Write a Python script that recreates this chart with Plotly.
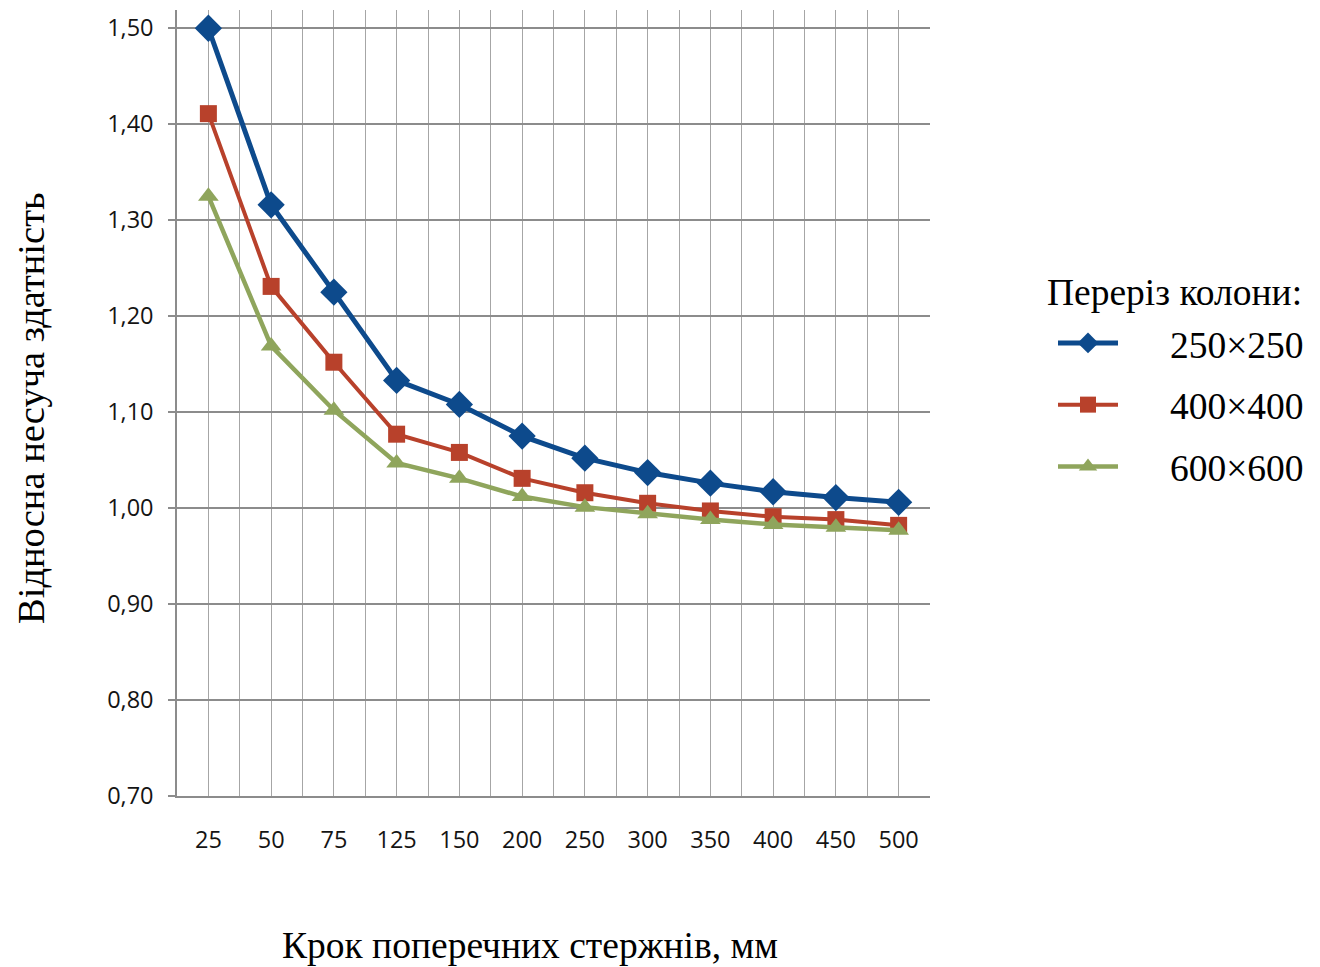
import plotly.graph_objects as go

categories = ["25", "50", "75", "125", "150", "200", "250", "300", "350", "400", "450", "500"]
s250 = [1.500, 1.316, 1.225, 1.133, 1.108, 1.075, 1.052, 1.037, 1.026, 1.017, 1.011, 1.006]
s400 = [1.411, 1.231, 1.152, 1.077, 1.058, 1.031, 1.016, 1.005, 0.997, 0.991, 0.988, 0.982]
s600 = [1.325, 1.169, 1.102, 1.047, 1.031, 1.012, 1.001, 0.994, 0.988, 0.983, 0.980, 0.977]
series_names = ["250×250", "400×400", "600×600"]
y_ticks = [0.70, 0.80, 0.90, 1.00, 1.10, 1.20, 1.30, 1.40, 1.50]

xpos = list(range(len(categories)))
nb = "\u00a0"
serif = "Liberation Serif"
tfont = dict(family="Open Sans", size=23.5, color="#141414")
big = 37.5

fig = go.Figure()
styles = [
    (s250, "#0d4a8c", "diamond", 21, 5),
    (s400, "#b8412b", "square", 17, 4),
    (s600, "#8fa55c", "triangle-up", 18, 4.5),
]
for name, (vals, col, sym, ms, lw) in zip(series_names, styles):
    fig.add_trace(go.Scatter(
        x=xpos, y=vals, mode="lines+markers", name=nb * 5 + name,
        legendgroup=name,
        line=dict(color=col, width=lw),
        marker=dict(symbol=sym, size=ms, color=col),
    ))

W, H = 1320, 967
L, R, T, B = 177, 390, 10, 171
pw, ph = W - L - R, H - T - B

def px_to_paper_x(px):
    return (px - L) / pw

def px_to_paper_y(py):
    return (H - B - py) / ph

fig.update_layout(
    width=W, height=H,
    margin=dict(l=L, r=R, t=T, b=B, autoexpand=False),
    paper_bgcolor="white", plot_bgcolor="white",
    separators=", ",
    showlegend=True,
    legend=dict(
        font=dict(family=serif, size=big, color="black"),
        x=px_to_paper_x(1053), y=px_to_paper_y(312), xanchor="left", yanchor="top",
        tracegroupgap=10, itemwidth=60,
        bgcolor="rgba(0,0,0,0)",
    ),
    xaxis=dict(
        range=[-0.5, len(categories) - 0.5],
        tickvals=xpos, ticktext=categories,
        showgrid=True, gridcolor="#a6a6a6", gridwidth=1.3,
        minor=dict(dtick=0.5, tick0=0.5, showgrid=True, gridcolor="#a6a6a6", gridwidth=1.3),
        zeroline=False,
        showline=True, linecolor="#8c8c8c", linewidth=1.5,
        ticks="", ticklabelstandoff=22,
        tickfont=tfont,
        automargin=False,
    ),
    yaxis=dict(
        range=[0.70, 1.519],
        tickvals=y_ticks, tickformat=".2f",
        showgrid=True, gridcolor="#8c8c8c", gridwidth=1.5,
        zeroline=False,
        showline=True, linecolor="#8c8c8c", linewidth=1.5,
        ticks="outside", ticklen=7, tickcolor="#8c8c8c", tickwidth=1.5,
        ticklabelstandoff=10,
        tickfont=tfont,
        automargin=False,
    ),
    annotations=[
        dict(text="Крок поперечних стержнів, мм", xref="paper", yref="paper",
             x=px_to_paper_x(530), y=px_to_paper_y(945), xanchor="center", yanchor="middle",
             showarrow=False, font=dict(family=serif, size=big, color="black")),
        dict(text="Відносна несуча здатність", xref="paper", yref="paper",
             x=px_to_paper_x(31), y=px_to_paper_y(408), xanchor="center", yanchor="middle",
             textangle=-90, showarrow=False, font=dict(family=serif, size=big + 1, color="black")),
        dict(text="Переріз колони:", xref="paper", yref="paper",
             x=px_to_paper_x(1045), y=px_to_paper_y(292), xanchor="left", yanchor="middle",
             showarrow=False, font=dict(family=serif, size=big, color="black")),
    ],
)

fig.write_html("out.html")
